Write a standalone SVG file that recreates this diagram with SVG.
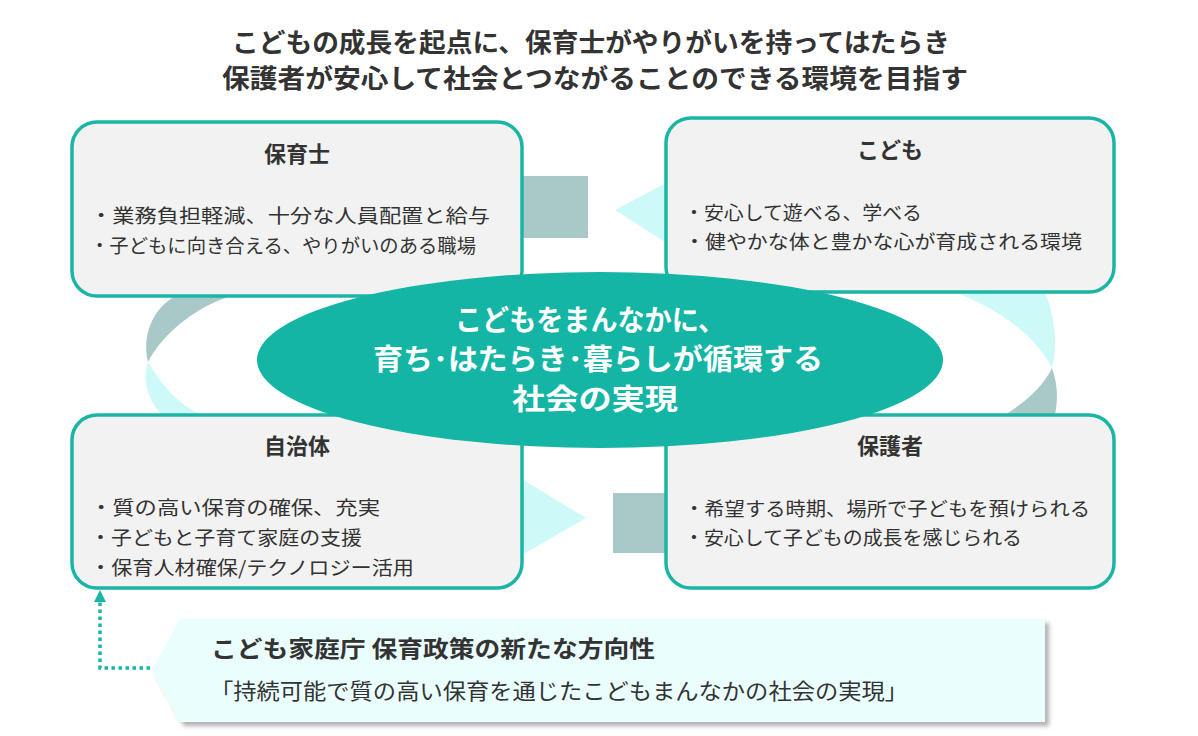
<svg xmlns="http://www.w3.org/2000/svg" width="1198" height="736" viewBox="0 0 1198 736">
<defs>
<style>
.box{fill:#f2f2f2;stroke:#1ab5a5;stroke-width:3.5}
.t{font-family:"Noto Sans CJK JP",sans-serif;fill:#333}
.h{font-size:22px;font-weight:bold;text-anchor:middle}
.b{font-size:19px}
.g{fill:#a9c9c9}
.c{fill:#cdfaf8}
</style>
<filter id="sh" x="-5%" y="-10%" width="110%" height="130%"><feDropShadow dx="4" dy="4" stdDeviation="2" flood-color="#000" flood-opacity="0.3"/></filter>
<marker id="ah" markerUnits="userSpaceOnUse" markerWidth="12" markerHeight="12" refX="2" refY="6" orient="auto"><path d="M0,0 L12,6 L0,12 Z" fill="#1ab5a5"/></marker>
</defs>
<rect width="1198" height="736" fill="#fff"/>
<g id="title" class="t" font-weight="bold" font-size="26">
<text x="232" y="52" textLength="718" lengthAdjust="spacingAndGlyphs">こどもの成長を起点に、保育士がやりがいを持ってはたらき</text>
<text x="222" y="88" textLength="746" lengthAdjust="spacingAndGlyphs">保護者が安心して社会とつながることのできる環境を目指す</text>
</g>
<g id="cycle">
<path class="g" d="M175 296 C152 310 142 335 148 362 C165 330 200 305 232 296 Z"/>
<path class="c" d="M148 362 C165 390 180 405 202 415 L162 415 C148 400 142 380 148 362 Z"/>
<path class="c" d="M957 293 L1045 293 C1055 315 1058 345 1052 368 C1035 335 1000 310 957 293 Z"/>
<path class="g" d="M1052 368 C1058 385 1058 400 1055 415 L1005 415 C1025 402 1042 388 1052 368 Z"/>
<rect class="g" x="520" y="176" width="68" height="62"/>
<path class="c" d="M668 182 L615 210 L668 244 Z"/>
<path class="c" d="M520 478 L586 518 L520 556 Z"/>
<rect class="g" x="613" y="493" width="55" height="60"/>
</g>
<g id="hoikushi"><rect class="box" x="72" y="122" width="450" height="174" rx="25"/>
<text class="t h" x="297" y="162">保育士</text>
<text class="t b" x="90" y="223" textLength="400" lengthAdjust="spacingAndGlyphs">・業務負担軽減、十分な人員配置と給与</text>
<text class="t b" x="90" y="253" textLength="386" lengthAdjust="spacingAndGlyphs">・子どもに向き合える、やりがいのある職場</text></g>
<g id="kodomo"><rect class="box" x="666" y="118" width="448" height="174" rx="25"/>
<text class="t h" x="890" y="158">こども</text>
<text class="t b" x="684" y="220" textLength="238" lengthAdjust="spacingAndGlyphs">・安心して遊べる、学べる</text>
<text class="t b" x="684" y="249" textLength="398" lengthAdjust="spacingAndGlyphs">・健やかな体と豊かな心が育成される環境</text></g>
<g id="jichitai"><rect class="box" x="72" y="415" width="450" height="173" rx="25"/>
<text class="t h" x="297" y="454">自治体</text>
<text class="t b" x="90" y="515" textLength="290" lengthAdjust="spacingAndGlyphs">・質の高い保育の確保、充実</text>
<text class="t b" x="90" y="545" textLength="272" lengthAdjust="spacingAndGlyphs">・子どもと子育て家庭の支援</text>
<text class="t b" x="90" y="575" textLength="324" lengthAdjust="spacingAndGlyphs">・保育人材確保/テクノロジー活用</text></g>
<g id="hogosha"><rect class="box" x="666" y="415" width="448" height="173" rx="25"/>
<text class="t h" x="890" y="454">保護者</text>
<text class="t b" x="684" y="516" textLength="406" lengthAdjust="spacingAndGlyphs">・希望する時期、場所で子どもを預けられる</text>
<text class="t b" x="684" y="545" textLength="338" lengthAdjust="spacingAndGlyphs">・安心して子どもの成長を感じられる</text></g>
<g id="center"><ellipse cx="600" cy="360" rx="343" ry="88" fill="#15b5a5"/>
<g font-family="Noto Sans CJK JP,sans-serif" font-weight="bold" font-size="29" fill="#fff">
<text x="455" y="331" textLength="270" lengthAdjust="spacingAndGlyphs">こどもをまんなかに、</text>
<text x="373" y="370" textLength="450" lengthAdjust="spacingAndGlyphs">育ち･はたらき･暮らしが循環する</text>
<text x="512" y="410" textLength="166" lengthAdjust="spacingAndGlyphs">社会の実現</text></g></g>
<g id="policy"><path d="M180 619 L1045 619 L1045 722 L180 722 L152 670 Z" fill="#eafefe" filter="url(#sh)"/>
<text class="t" x="211" y="657" font-size="23" font-weight="bold" textLength="444" lengthAdjust="spacingAndGlyphs">こども家庭庁  保育政策の新たな方向性</text>
<text class="t" x="210" y="699" font-size="22" textLength="698" lengthAdjust="spacingAndGlyphs">「持続可能で質の高い保育を通じたこどもまんなかの社会の実現」</text></g>
<g id="connectors"><path d="M150 668 L100 668 L100 600" fill="none" stroke="#1ab5a5" stroke-width="3.5" stroke-dasharray="3.5 3.5" marker-end="url(#ah)"/></g>
</svg>
